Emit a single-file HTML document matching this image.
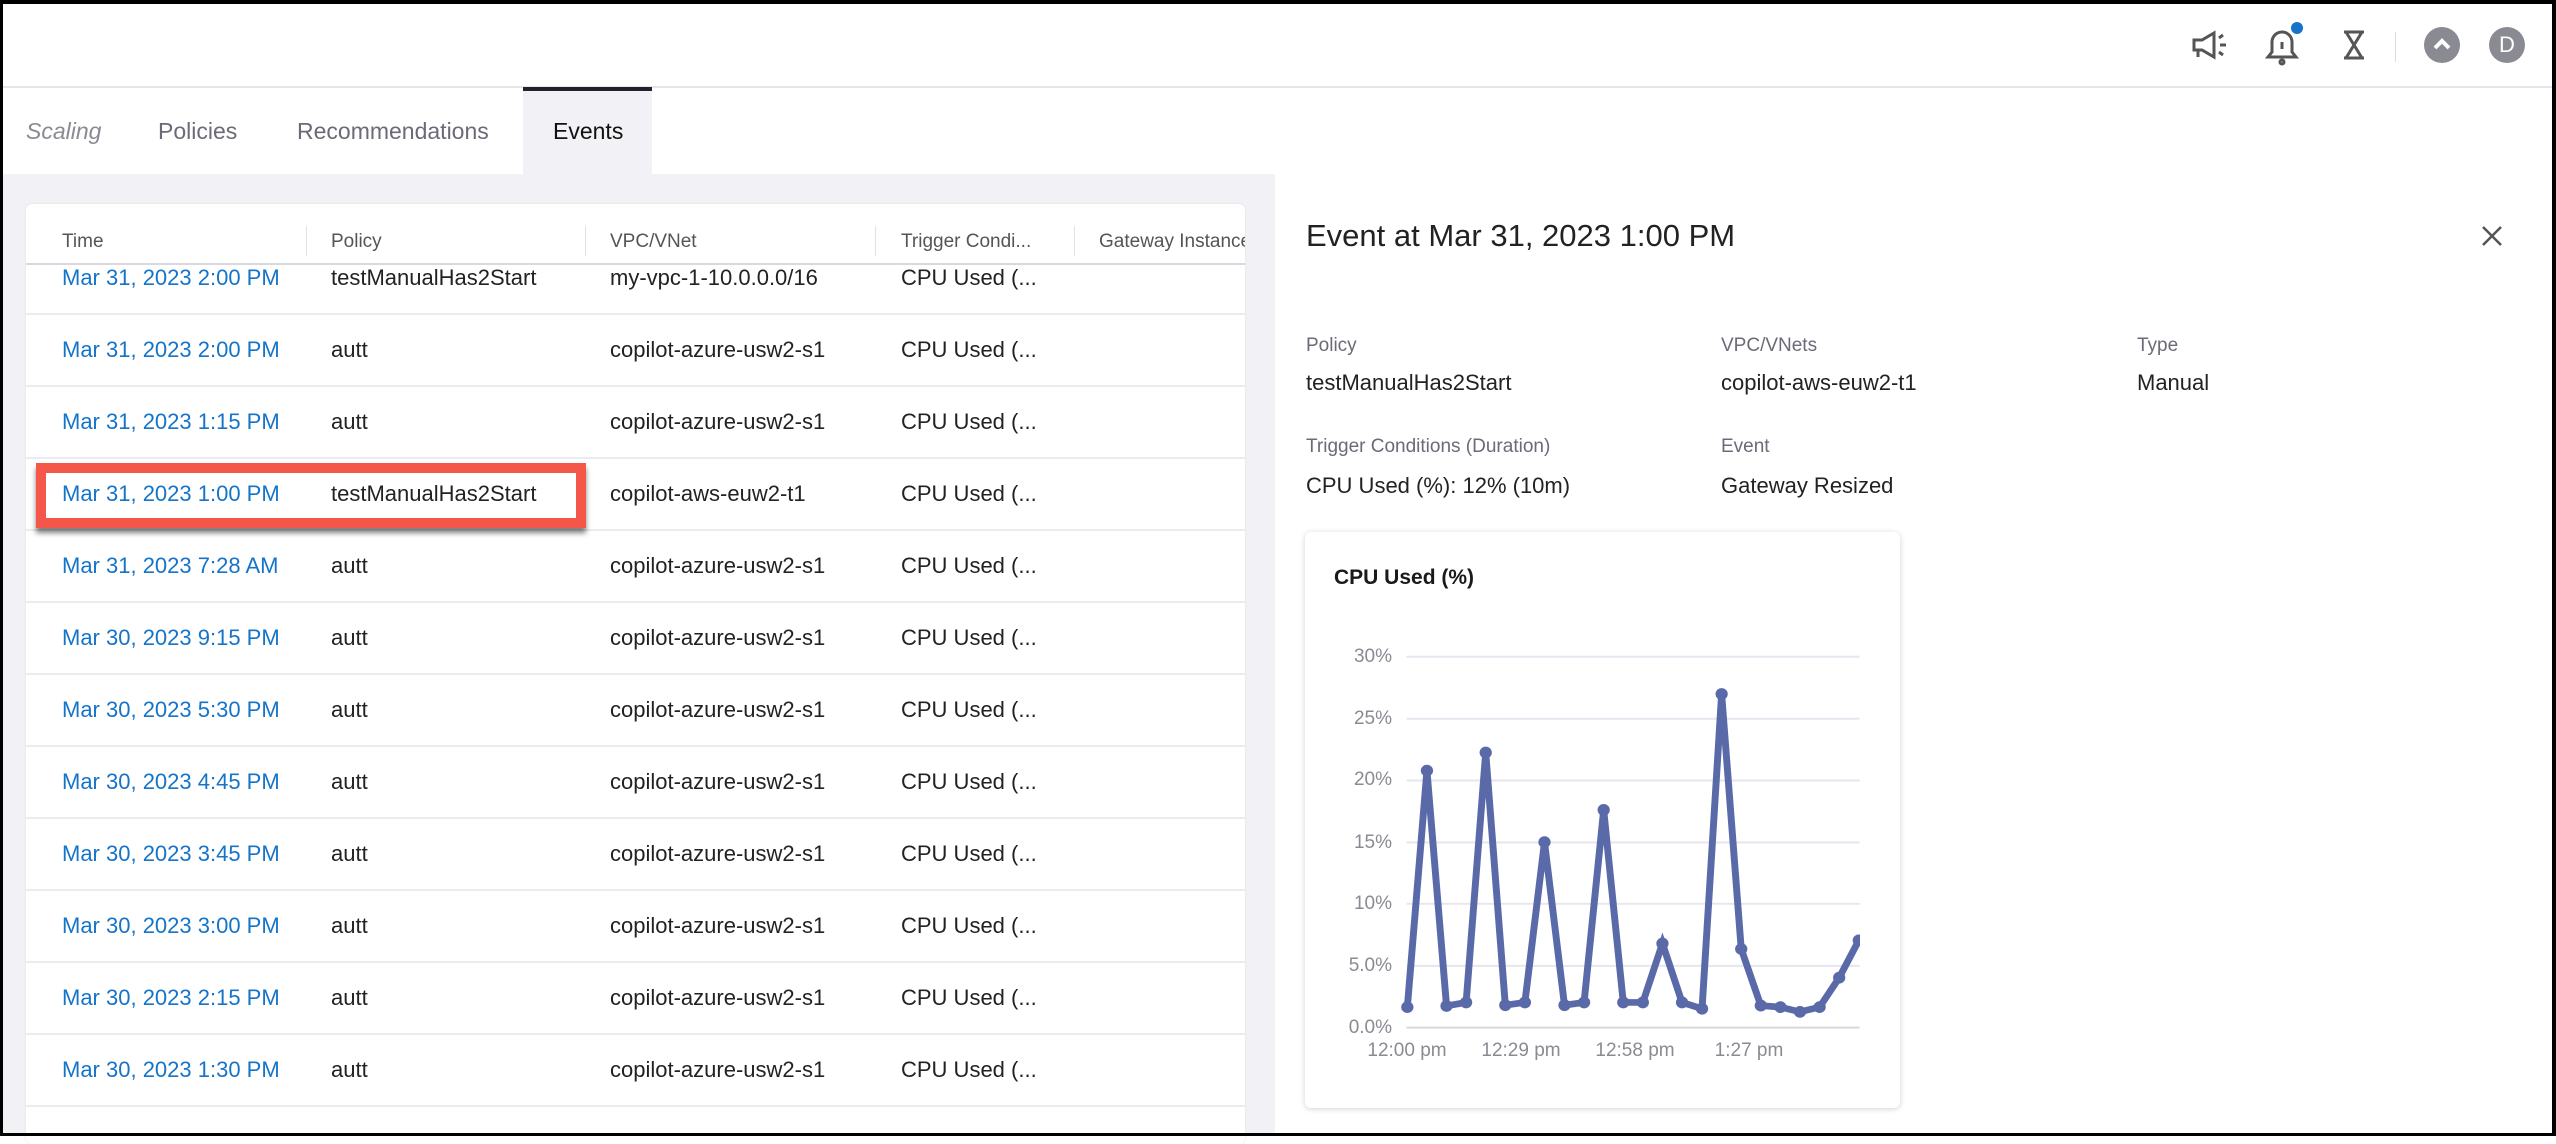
<!DOCTYPE html>
<html><head><meta charset="utf-8"><style>
*{margin:0;padding:0;box-sizing:border-box}
body{width:2556px;height:1136px;overflow:hidden;background:#fff;font-family:"Liberation Sans",sans-serif;position:relative}
.abs{position:absolute}
.frame{position:absolute;left:0;top:0;width:2556px;height:1136px;border:3px solid #000;border-right-width:4px;border-top-width:4px;z-index:10;pointer-events:none}
.tab{position:absolute;top:118px;font-size:23px;color:#6b6b78}
.hd{position:absolute;top:231px;font-size:19px;color:#555}
.sep{position:absolute;top:226px;width:1px;height:30px;background:#e2e2e6}
.row{position:absolute;left:0;width:1219px;height:72px;border-bottom:2px solid #ececf0}
.c{position:absolute;top:22px;font-size:22px;color:#222;white-space:nowrap}
.c.t{color:#1574c8}
.lbl{position:absolute;font-size:19px;color:#6b6b78}
.val{position:absolute;font-size:22px;color:#222}
.yl{position:absolute;right:1164px;font-size:19px;color:#8a8a92;line-height:20px}
.xl{position:absolute;top:1040px;font-size:19px;color:#8a8a92;width:120px;text-align:center}
</style></head><body>
<div class="frame"></div>
<div class="abs" style="left:0;top:86px;width:2556px;height:2px;background:#e6e6ea"></div>
<svg class="abs" style="left:2180px;top:20px" width="280" height="54" viewBox="0 0 280 54">
 <g fill="none" stroke="#555" stroke-width="3">
  <path d="M14 20 h8 l12 -7 v24 l-12 -7 h-8z"/><path d="M18 30 v7"/><path d="M39 18 l4 -3 M40 25 h6 M39 32 l4 3"/>
  <path d="M88 37 h28 l-4 -5 v-10 a10 10 0 0 0 -20 0 v10z"/><path d="M102 22 v7"/><circle cx="102" cy="42" r="2"/>
  <path d="M164 12 h20 M164 38 h20 M166 12 l16 26 M182 12 l-16 26"/>
 </g>
 <circle cx="117" cy="8" r="6" fill="#1574c8"/>
 <rect x="215" y="12" width="1" height="30" fill="#ddd"/>
</svg>
<div class="abs" style="left:2424px;top:27px;width:36px;height:36px;border-radius:50%;background:#8a8a92"></div>
<svg class="abs" style="left:2424px;top:27px" width="36" height="36"><path d="M11 21 l7 -7 l7 7" fill="none" stroke="#fff" stroke-width="4"/></svg>
<div class="abs" style="left:2489px;top:27px;width:36px;height:36px;border-radius:50%;background:#8a8a92;color:#fff;font-size:22px;text-align:center;line-height:36px">D</div>
<div class="tab" style="left:26px;font-style:italic;color:#8a8a92">Scaling</div>
<div class="tab" style="left:158px">Policies</div>
<div class="tab" style="left:297px">Recommendations</div>
<div class="abs" style="left:523px;top:87px;width:129px;height:87px;background:#f2f2f6;border-top:4px solid #22222e"></div>
<div class="tab" style="left:553px;color:#111">Events</div>
<div class="abs" style="left:0;top:174px;width:1275px;height:962px;background:#f2f2f6"></div>
<div class="abs" style="left:26px;top:204px;width:1219px;height:940px;background:#fff;border-radius:6px;box-shadow:0 0 2px #ddd"></div>
<div class="hd" style="left:62px">Time</div><div class="sep" style="left:306px"></div>
<div class="hd" style="left:331px">Policy</div><div class="sep" style="left:585px"></div>
<div class="hd" style="left:610px">VPC/VNet</div><div class="sep" style="left:875px"></div>
<div class="hd" style="left:901px">Trigger Condi...</div><div class="sep" style="left:1074px"></div>
<div class="hd" style="left:1099px;width:146px;overflow:hidden;white-space:nowrap">Gateway Instance</div>
<div class="abs" style="left:26px;top:263px;width:1219px;height:2px;background:#d8d8de;z-index:2"></div>
<div class="abs" style="left:26px;top:265px;width:1219px;height:871px;overflow:hidden">
 <div style="position:relative;top:-265px">
 <div class="row" style="top:243px"><div class="c t" style="left:36px">Mar 31, 2023 2:00 PM</div><div class="c" style="left:305px">testManualHas2Start</div><div class="c" style="left:584px">my-vpc-1-10.0.0.0/16</div><div class="c" style="left:875px">CPU Used (...</div></div>
 <div class="row" style="top:315px"><div class="c t" style="left:36px">Mar 31, 2023 2:00 PM</div><div class="c" style="left:305px">autt</div><div class="c" style="left:584px">copilot-azure-usw2-s1</div><div class="c" style="left:875px">CPU Used (...</div></div>
 <div class="row" style="top:387px"><div class="c t" style="left:36px">Mar 31, 2023 1:15 PM</div><div class="c" style="left:305px">autt</div><div class="c" style="left:584px">copilot-azure-usw2-s1</div><div class="c" style="left:875px">CPU Used (...</div></div>
 <div class="row" style="top:459px"><div class="c t" style="left:36px">Mar 31, 2023 1:00 PM</div><div class="c" style="left:305px">testManualHas2Start</div><div class="c" style="left:584px">copilot-aws-euw2-t1</div><div class="c" style="left:875px">CPU Used (...</div></div>
 <div class="row" style="top:531px"><div class="c t" style="left:36px">Mar 31, 2023 7:28 AM</div><div class="c" style="left:305px">autt</div><div class="c" style="left:584px">copilot-azure-usw2-s1</div><div class="c" style="left:875px">CPU Used (...</div></div>
 <div class="row" style="top:603px"><div class="c t" style="left:36px">Mar 30, 2023 9:15 PM</div><div class="c" style="left:305px">autt</div><div class="c" style="left:584px">copilot-azure-usw2-s1</div><div class="c" style="left:875px">CPU Used (...</div></div>
 <div class="row" style="top:675px"><div class="c t" style="left:36px">Mar 30, 2023 5:30 PM</div><div class="c" style="left:305px">autt</div><div class="c" style="left:584px">copilot-azure-usw2-s1</div><div class="c" style="left:875px">CPU Used (...</div></div>
 <div class="row" style="top:747px"><div class="c t" style="left:36px">Mar 30, 2023 4:45 PM</div><div class="c" style="left:305px">autt</div><div class="c" style="left:584px">copilot-azure-usw2-s1</div><div class="c" style="left:875px">CPU Used (...</div></div>
 <div class="row" style="top:819px"><div class="c t" style="left:36px">Mar 30, 2023 3:45 PM</div><div class="c" style="left:305px">autt</div><div class="c" style="left:584px">copilot-azure-usw2-s1</div><div class="c" style="left:875px">CPU Used (...</div></div>
 <div class="row" style="top:891px"><div class="c t" style="left:36px">Mar 30, 2023 3:00 PM</div><div class="c" style="left:305px">autt</div><div class="c" style="left:584px">copilot-azure-usw2-s1</div><div class="c" style="left:875px">CPU Used (...</div></div>
 <div class="row" style="top:963px"><div class="c t" style="left:36px">Mar 30, 2023 2:15 PM</div><div class="c" style="left:305px">autt</div><div class="c" style="left:584px">copilot-azure-usw2-s1</div><div class="c" style="left:875px">CPU Used (...</div></div>
 <div class="row" style="top:1035px"><div class="c t" style="left:36px">Mar 30, 2023 1:30 PM</div><div class="c" style="left:305px">autt</div><div class="c" style="left:584px">copilot-azure-usw2-s1</div><div class="c" style="left:875px">CPU Used (...</div></div>
 </div>
</div>
<div class="abs" style="left:36px;top:463px;width:550px;height:65px;border:10px solid #f4574a;box-shadow:0 5px 5px rgba(0,0,0,0.5);z-index:3"></div>
<div class="abs" style="left:1306px;top:218px;font-size:31px;color:#222">Event at Mar 31, 2023 1:00 PM</div>
<svg class="abs" style="left:2480px;top:224px" width="24" height="24"><path d="M3 3L21 21M21 3L3 21" stroke="#555" stroke-width="2.5"/></svg>
<div class="lbl" style="left:1306px;top:335px">Policy</div><div class="val" style="left:1306px;top:370px">testManualHas2Start</div>
<div class="lbl" style="left:1721px;top:335px">VPC/VNets</div><div class="val" style="left:1721px;top:370px">copilot-aws-euw2-t1</div>
<div class="lbl" style="left:2137px;top:335px">Type</div><div class="val" style="left:2137px;top:370px">Manual</div>
<div class="lbl" style="left:1306px;top:436px">Trigger Conditions (Duration)</div><div class="val" style="left:1306px;top:473px">CPU Used (%): 12% (10m)</div>
<div class="lbl" style="left:1721px;top:436px">Event</div><div class="val" style="left:1721px;top:473px">Gateway Resized</div>
<div class="abs" style="left:1305px;top:532px;width:595px;height:576px;background:#fff;border-radius:6px;box-shadow:0 1px 6px rgba(0,0,0,0.18)"></div>
<div class="abs" style="left:1334px;top:566px;font-size:21px;font-weight:bold;color:#1a1a1a">CPU Used (%)</div>
<div class="yl" style="top:647px">30%</div>
<div class="yl" style="top:709px">25%</div>
<div class="yl" style="top:770px">20%</div>
<div class="yl" style="top:833px">15%</div>
<div class="yl" style="top:894px">10%</div>
<div class="yl" style="top:956px">5.0%</div>
<div class="yl" style="top:1018px">0.0%</div>
<div class="xl" style="left:1347px">12:00 pm</div>
<div class="xl" style="left:1461px">12:29 pm</div>
<div class="xl" style="left:1575px">12:58 pm</div>
<div class="xl" style="left:1689px">1:27 pm</div>
<svg class="abs" style="left:1280px;top:520px" width="640" height="616" viewBox="0 0 1568 1568" preserveAspectRatio="none">
 <g stroke="#e6e6ee" stroke-width="5">
  <line x1="310" y1="348" x2="1420" y2="348"/><line x1="310" y1="506" x2="1420" y2="506"/><line x1="310" y1="663" x2="1420" y2="663"/><line x1="310" y1="821" x2="1420" y2="821"/><line x1="310" y1="977" x2="1420" y2="977"/><line x1="310" y1="1135" x2="1420" y2="1135"/><line x1="310" y1="1292" x2="1420" y2="1292" stroke="#d6d6de"/>
 </g>
 <polyline fill="none" stroke="#5a6aa8" stroke-width="17" stroke-linejoin="miter" points="312,1240 360,638 408,1237 456,1228 504,592 552,1235 600,1228 648,820 697,1235 745,1228 793,738 841,1228 889,1228 937,1078 985,1228 1034,1244 1082,443 1130,1092 1178,1236 1226,1240 1274,1252 1322,1240 1370,1165 1418,1070"/>
 <g fill="#5a6aa8">
  <circle cx="312" cy="1240" r="15"/><circle cx="360" cy="638" r="15"/><circle cx="408" cy="1237" r="15"/><circle cx="456" cy="1228" r="15"/><circle cx="504" cy="592" r="15"/><circle cx="552" cy="1235" r="15"/><circle cx="600" cy="1228" r="15"/><circle cx="648" cy="820" r="15"/><circle cx="697" cy="1235" r="15"/><circle cx="745" cy="1228" r="15"/><circle cx="793" cy="738" r="15"/><circle cx="841" cy="1228" r="15"/><circle cx="889" cy="1228" r="15"/><circle cx="937" cy="1078" r="15"/><circle cx="985" cy="1228" r="15"/><circle cx="1034" cy="1244" r="15"/><circle cx="1082" cy="443" r="15"/><circle cx="1130" cy="1092" r="15"/><circle cx="1178" cy="1236" r="15"/><circle cx="1226" cy="1240" r="15"/><circle cx="1274" cy="1252" r="15"/><circle cx="1322" cy="1240" r="15"/><circle cx="1370" cy="1165" r="15"/><circle cx="1418" cy="1070" r="15"/>
 </g>
 <rect x="1421" y="300" width="90" height="1100" fill="#fff"/>
</svg>
</body></html>
